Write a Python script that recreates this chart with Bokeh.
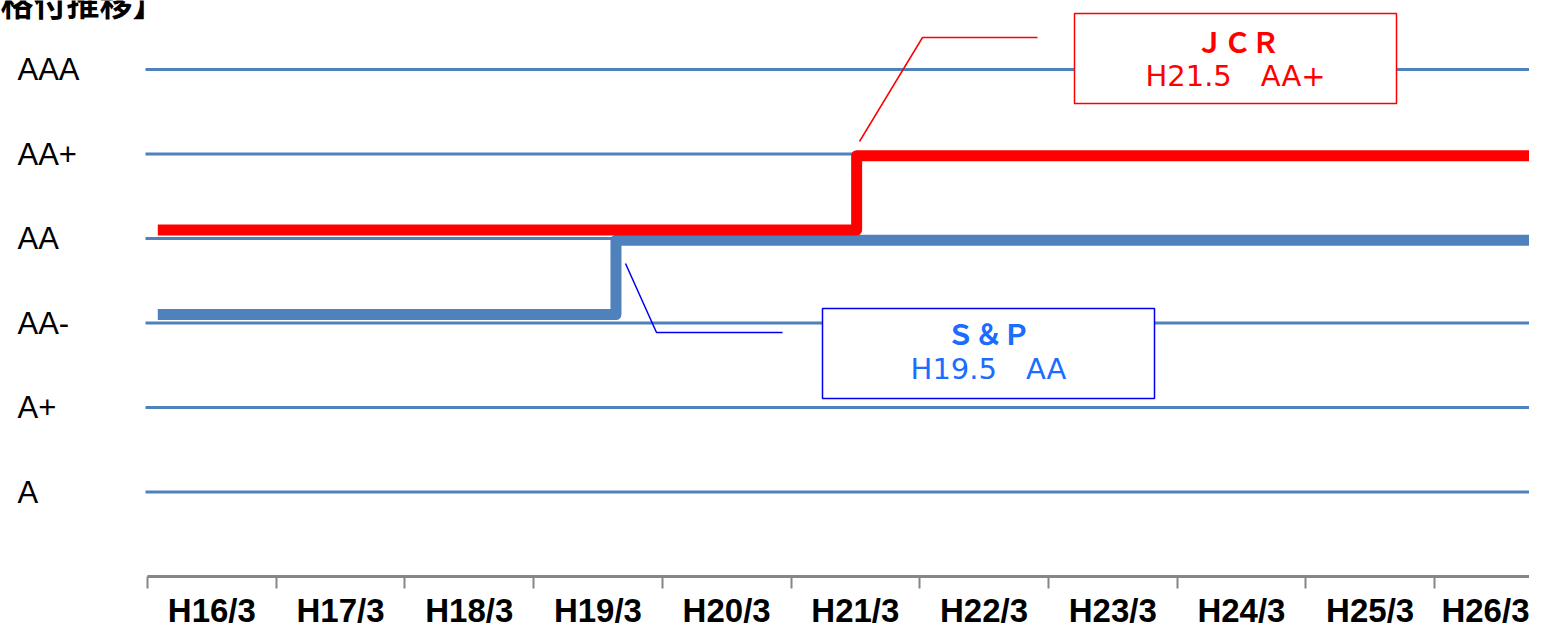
from bokeh.plotting import figure
from bokeh.models import (Range1d, FixedTicker, LinearAxis, Label,
                          BoxAnnotation)
from bokeh.core.properties import value
from bokeh.embed import file_html
from bokeh.resources import INLINE

# ---- data -------------------------------------------------------------
categories = ["H16/3", "H17/3", "H18/3", "H19/3", "H20/3", "H21/3",
              "H22/3", "H23/3", "H24/3", "H25/3", "H26/3"]
rating_labels = ["A", "A+", "AA-", "AA", "AA+", "AAA"]
rating_levels = [1, 2, 3, 4, 5, 6]

# JCR (red) : AA -> AA+ (H21.5)
jcr_x = [-0.42, 5.01, 10.5]
jcr_y = [4.10, 4.98, 4.98]
# S&P (blue): AA- -> AA (H19.5)
sp_x = [-0.42, 3.14, 10.5]
sp_y = [3.10, 3.98, 3.98]

title_text = "【格付推移】"
jcr_title, jcr_note = "ＪＣＲ", "H21.5\u3000AA+"
sp_title, sp_note = "Ｓ＆Ｐ", "H19.5\u3000AA"

# ---- layout helpers (pixel -> data, for placement only) ---------------
W, H = 1529, 624
X0, PXW = 147.0, 128.7
Y0, PXH = 576.0, 84.5
def dx(px):
    return (px - X0) / PXW - 0.5
def dy(py):
    return (Y0 - py) / PXH

GRID_BLUE = "#4f81bd"
AXIS_GRAY = "#868686"

p = figure(width=W, height=H, output_backend="svg", toolbar_location=None,
           x_range=Range1d(dx(0), dx(W)), y_range=Range1d(dy(H), dy(0)),
           x_axis_type=None, y_axis_type=None,
           min_border_left=0, min_border_right=0, min_border_top=0,
           min_border_bottom=0)
p.outline_line_color = None
p.background_fill_color = "white"
p.border_fill_color = "white"

# horizontal rating lines
n = len(rating_levels)
p.segment(x0=[dx(145)] * n, x1=[dx(W)] * n, y0=rating_levels, y1=rating_levels,
          line_color=GRID_BLUE, line_width=3)

# category axis (ticks on the boundaries, labels in the middle)
xaxis = LinearAxis(
    fixed_location=0,
    bounds=(dx(147), dx(W)),
    ticker=FixedTicker(ticks=list(range(len(categories))),
                       minor_ticks=[i - 0.5 for i in range(len(categories) + 1)]),
    major_label_overrides={i: c for i, c in enumerate(categories)},
    axis_line_color=AXIS_GRAY, axis_line_width=3,
    major_tick_line_color=None, major_tick_in=0, major_tick_out=0,
    minor_tick_line_color=AXIS_GRAY, minor_tick_line_width=2,
    minor_tick_in=0, minor_tick_out=12,
    major_label_text_font="Liberation Sans", major_label_text_font_style="bold",
    major_label_text_font_size="33px", major_label_text_color="black",
    major_label_standoff=3)
p.add_layout(xaxis, "below")

# rating labels
p.text(x=[dx(17)] * n, y=rating_levels, text=rating_labels,
       text_align="left", text_baseline="middle",
       text_font=value("Liberation Sans"), text_font_size="31px",
       text_color="black")

# title (cut off at top, as in the reference)
p.text(x=[dx(-33)], y=[dy(1)], text=[title_text], text_align="left",
       text_baseline="alphabetic", text_font=value("Noto Sans CJK JP"),
       text_font_style="bold", text_font_size="33px", text_color="black")

# series
p.step(sp_x, sp_y, mode="after", line_width=11, line_color=GRID_BLUE,
       line_join="round", line_cap="butt")
p.step(jcr_x, jcr_y, mode="after", line_width=11, line_color="#ff0000",
       line_join="round", line_cap="butt")

# JCR callout
p.line([dx(859), dx(922), dx(1037)], [dy(141), dy(37), dy(37)],
       line_color="#ff0000", line_width=1.5)
p.add_layout(BoxAnnotation(left=dx(1074), right=dx(1396), top=dy(13),
                           bottom=dy(103), fill_color="white", fill_alpha=1,
                           line_color="#ff0000", line_alpha=1, line_width=1.5))
p.add_layout(Label(x=dx(1237), y=dy(40), text=jcr_title, text_align="center",
                   text_baseline="middle", text_font="Noto Sans CJK JP",
                   text_font_style="bold", text_font_size="28px",
                   text_color="#ff0000"))
p.add_layout(Label(x=dx(1235), y=dy(75), text=jcr_note, text_align="center",
                   text_baseline="middle", text_font="DejaVu Sans",
                   text_font_size="29px", text_color="#ff0000"))

# S&P callout
SP_TEXT = "#1a6dff"
SP_LINE = "#0000ee"
p.line([dx(625), dx(656), dx(782)], [dy(263), dy(332), dy(332)],
       line_color=SP_LINE, line_width=1.5)
p.add_layout(BoxAnnotation(left=dx(822), right=dx(1154), top=dy(308),
                           bottom=dy(398), fill_color="white", fill_alpha=1,
                           line_color=SP_LINE, line_alpha=1, line_width=1.5))
p.add_layout(Label(x=dx(988), y=dy(332), text=sp_title, text_align="center",
                   text_baseline="middle", text_font="Noto Sans CJK JP",
                   text_font_style="bold", text_font_size="28px",
                   text_color=SP_TEXT))
p.add_layout(Label(x=dx(988), y=dy(368), text=sp_note, text_align="center",
                   text_baseline="middle", text_font="DejaVu Sans",
                   text_font_size="29px", text_color=SP_TEXT))

open("out.html", "w").write(file_html(p, INLINE))
